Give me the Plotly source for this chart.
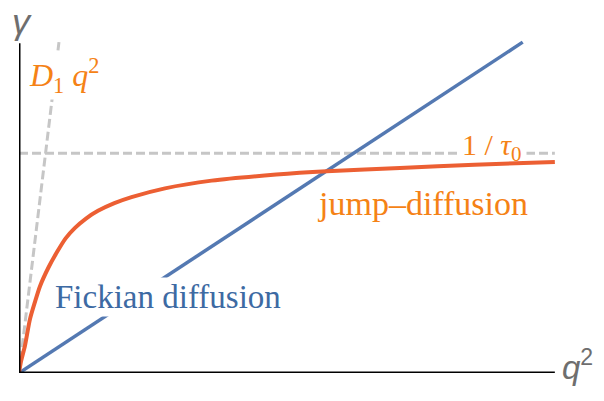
import plotly.graph_objects as go

# Fickian diffusion: straight line through origin
fick_q2 = [0.0, 9.40]
fick_gamma = [0.0, 6.02]

# jump-diffusion curve
jump_q2 = [0.0, 0.04, 0.112, 0.205, 0.300, 0.392, 0.550, 0.709, 0.870, 1.045,
           1.250, 1.474, 1.780, 2.10, 2.724, 3.595, 4.80, 5.74, 7.11, 8.50, 10.0]
jump_gamma = [0.0, 0.22, 0.50, 0.98, 1.30, 1.58, 1.92, 2.20, 2.45, 2.64,
              2.81, 2.95, 3.09, 3.20, 3.36, 3.50, 3.61, 3.67, 3.73, 3.79, 3.84]

# asymptotes
d1_q2 = [0.0, 0.746]
d1_gamma = [0.0, 6.02]
tau_q2 = [0.0, 10.0]
tau_gamma = [4.0, 4.0]

BLUE = "#5479b2"
RED = "#ec5f33"
ORANGE = "#f58216"
GRAY = "#c6c6c6"
SERIF = "Liberation Serif"

fig = go.Figure()

fig.add_trace(go.Scatter(x=d1_q2, y=d1_gamma, mode="lines",
                         line=dict(color=GRAY, width=3, dash="9px,4px")))
fig.add_trace(go.Scatter(x=tau_q2, y=tau_gamma, mode="lines",
                         line=dict(color=GRAY, width=3, dash="9px,4px")))
fig.add_trace(go.Scatter(x=fick_q2, y=fick_gamma, mode="lines",
                         line=dict(color=BLUE, width=3.5)))
fig.add_trace(go.Scatter(x=jump_q2, y=jump_gamma, mode="lines",
                         line=dict(color=RED, width=4, shape="spline", smoothing=0.8)))

# axis lines
fig.add_shape(type="line", x0=0, y0=0, x1=10, y1=0,
              line=dict(color="black", width=3))
fig.add_shape(type="line", x0=0, y0=0, x1=0, y1=6,
              line=dict(color="black", width=3))

fig.add_annotation(x=2.78, y=1.38, text="Fickian diffusion", showarrow=False,
                   font=dict(family=SERIF, size=33, color="#3d6aa3"),
                   bgcolor="white")
fig.add_annotation(x=7.54, y=3.09, text="jump–diffusion", showarrow=False,
                   font=dict(family=SERIF, size=34, color=ORANGE),
                   bgcolor="white")
# thin white gap in the 1/tau0 dashed line, kept clear of the curve below
fig.add_annotation(x=8.82, y=4.0, text=" ", showarrow=False,
                   width=66, height=8, bgcolor="white")
fig.add_annotation(x=8.82, y=4.11, text="1 / <i>τ</i><sub>0</sub>", showarrow=False,
                   font=dict(family=SERIF, size=30, color=ORANGE))
fig.add_annotation(x=0.84, y=5.42, text="<i>D</i><sub>1</sub> <i>q</i><sup>2</sup>",
                   showarrow=False,
                   font=dict(family=SERIF, size=32, color=ORANGE),
                   bgcolor="white")

# axis titles (paper coords: plot area spans x 19..587 px, y 35..373 px)
fig.add_annotation(x=0.005, y=1.04, xref="paper", yref="paper", text="<i>γ</i>",
                   xanchor="center", yanchor="middle", showarrow=False,
                   font=dict(family="Liberation Sans", size=36, color="#6e6e6e"))
fig.add_annotation(x=0.984, y=0.024, xref="paper", yref="paper",
                   text="<i>q</i><sup>2</sup>", xanchor="center", yanchor="middle",
                   showarrow=False,
                   font=dict(family="Liberation Sans", size=33, color="#6e6e6e"))

# the page body adds an 8px offset, so margins are shifted back by 8px
fig.update_layout(
    width=604, height=401,
    margin=dict(l=11, r=25, t=27, b=36, autoexpand=False),
    plot_bgcolor="white", paper_bgcolor="white",
    showlegend=False,
    xaxis=dict(range=[0, 10.6], visible=False),
    yaxis=dict(range=[0, 6.15], visible=False),
)

fig.write_html("out.html")
